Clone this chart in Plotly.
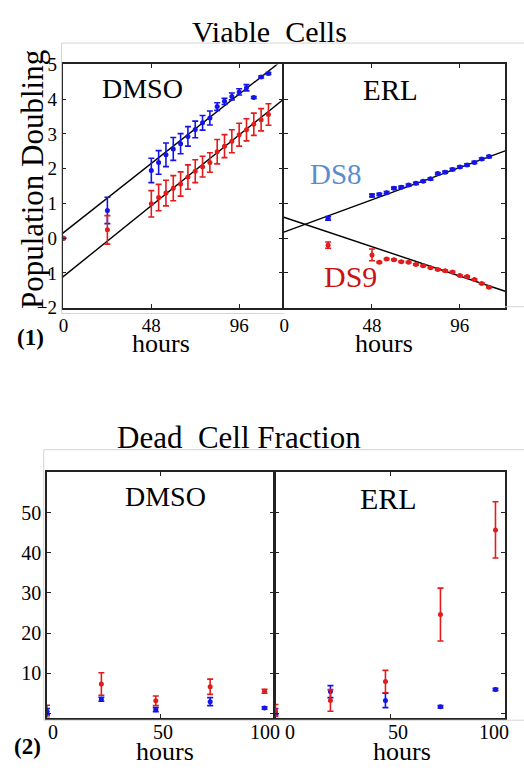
import numpy as np
import plotly.graph_objects as go

W, H = 524, 774

# ---------------- data ----------------
# (1) Viable cells: population doubling vs hours
hours_viable = [0, 24, 48, 52, 56, 60, 64, 68, 72, 76, 80, 84, 88, 92, 96, 100, 104, 108, 112]
dmso_ds8_pd = [0.00, 0.80, 1.95, 2.18, 2.40, 2.57, 2.72, 2.93, 3.13, 3.32, 3.46, 3.79, 3.94, 4.08, 4.21, 4.33, 4.05, 4.64, 4.74]
dmso_ds8_err = [0.00, 0.38, 0.35, 0.34, 0.34, 0.33, 0.29, 0.28, 0.24, 0.21, 0.20, 0.11, 0.09, 0.10, 0.09, 0.09, 0.03, 0.03, 0.03]
dmso_ds9_pd = [0.00, 0.24, 0.99, 1.17, 1.30, 1.44, 1.56, 1.76, 1.93, 2.06, 2.18, 2.49, 2.65, 2.79, 2.98, 3.12, 3.28, 3.41, 3.56]
dmso_ds9_err = [0.00, 0.41, 0.38, 0.38, 0.37, 0.36, 0.35, 0.35, 0.33, 0.30, 0.28, 0.35, 0.33, 0.33, 0.33, 0.32, 0.32, 0.32, 0.31]

hours_erl = [24, 48, 52, 56, 60, 64, 68, 72, 76, 80, 84, 88, 92, 96, 100, 104, 108, 112]
erl_ds8_pd = [0.57, 1.23, 1.26, 1.31, 1.44, 1.47, 1.53, 1.58, 1.64, 1.71, 1.86, 1.90, 1.98, 2.05, 2.11, 2.18, 2.28, 2.35]
erl_ds8_err = [0.05, 0.04, 0.03, 0.03, 0.03, 0.03, 0.03, 0.03, 0.03, 0.03, 0.03, 0.03, 0.03, 0.03, 0.03, 0.03, 0.03, 0.03]
erl_ds9_pd = [-0.20, -0.48, -0.69, -0.60, -0.62, -0.68, -0.69, -0.76, -0.79, -0.85, -0.90, -0.94, -0.97, -1.07, -1.10, -1.19, -1.30, -1.41]
erl_ds9_err = [0.09, 0.17, 0.02, 0.02, 0.02, 0.02, 0.02, 0.02, 0.02, 0.02, 0.02, 0.02, 0.02, 0.02, 0.02, 0.02, 0.02, 0.02]

# fitted lines: (intercept, slope)
fit_dmso_ds8 = (0.16, 0.0415)
fit_dmso_ds9 = (-1.10, 0.0424)
fit_erl_ds8 = (0.18, 0.0193)
fit_erl_ds9 = (0.60, -0.0176)

# (2) Dead cell fraction vs hours
hours_dead = [0, 24, 48, 72, 96]
dmso_dead_ds9 = [0.5, 7.3, 3.1, 6.6, 5.5]
dmso_dead_ds9_err = [1.5, 2.8, 1.2, 1.9, 0.5]
dmso_dead_ds8 = [0.4, 3.5, 0.9, 2.9, 1.3]
dmso_dead_ds8_err = [0.8, 0.5, 0.5, 1.0, 0.3]
erl_dead_ds9 = [0.7, 3.2, 7.9, 24.6, 45.7]
erl_dead_ds9_err = [1.5, 2.7, 2.8, 6.6, 7.0]
erl_dead_ds8 = [0.4, 5.4, 3.2, 1.6, 5.9]
erl_dead_ds8_err = [0.8, 1.5, 1.8, 0.3, 0.3]

viable_xticks = [0, 48, 96]
viable_yticks = [-2, -1, 0, 1, 2, 3, 4, 5]
dead_xticks = [0, 50, 100]
dead_yticks = [0, 10, 20, 30, 40, 50]
dead_yticktext = ["", "10", "20", "30", "40", "50"]

BLUE = "#1414e6"
RED = "#e21b1b"
SERIF = "Liberation Serif"


def px(x):
    return x / W


def py(y):
    return 1 - y / H


fig = go.Figure()


def add_series(xs, ys, errs, color, xa, ya):
    fig.add_trace(go.Scatter(
        x=xs, y=ys, mode="markers", xaxis=xa, yaxis=ya,
        marker=dict(color=color, size=5),
        error_y=dict(type="data", array=errs, color=color, thickness=1.6, width=3),
        showlegend=False, hoverinfo="skip"))


def add_fit(fit, xr, xa, ya):
    xs = np.array(xr)
    fig.add_trace(go.Scatter(
        x=xs, y=fit[0] + fit[1] * xs, mode="lines", xaxis=xa, yaxis=ya,
        line=dict(color="black", width=1.4), showlegend=False, hoverinfo="skip"))


# axis ranges
xr_v1 = [-0.5, 119.6]
xr_v2 = [-0.2, 120.8]
xr_d = [0, 100]
yr_v = [-2, 5]
yr_d = [-1.07, 60.1]

# top DMSO
add_fit(fit_dmso_ds8, xr_v1, "x", "y")
add_fit(fit_dmso_ds9, xr_v1, "x", "y")
add_series(hours_viable, dmso_ds8_pd, dmso_ds8_err, BLUE, "x", "y")
add_series(hours_viable, dmso_ds9_pd, dmso_ds9_err, RED, "x", "y")
# top ERL
add_fit(fit_erl_ds8, xr_v2, "x2", "y2")
add_fit(fit_erl_ds9, xr_v2, "x2", "y2")
add_series(hours_erl, erl_ds8_pd, erl_ds8_err, BLUE, "x2", "y2")
add_series(hours_erl, erl_ds9_pd, erl_ds9_err, RED, "x2", "y2")
# bottom DMSO
add_series(hours_dead, dmso_dead_ds9, dmso_dead_ds9_err, RED, "x3", "y3")
add_series(hours_dead, dmso_dead_ds8, dmso_dead_ds8_err, BLUE, "x3", "y3")
# bottom ERL
add_series(hours_dead, erl_dead_ds8, erl_dead_ds8_err, BLUE, "x4", "y4")
add_series(hours_dead, erl_dead_ds9, erl_dead_ds9_err, RED, "x4", "y4")

axis_common = dict(showgrid=False, zeroline=False, showline=True, linecolor="#222222",
                   linewidth=1.6, mirror="ticks", ticks="inside", ticklen=4,
                   tickcolor="#222222", tickwidth=1.2)

fig.update_layout(
    width=W, height=H, autosize=False,
    margin=dict(l=0, r=0, t=0, b=0),
    paper_bgcolor="white", plot_bgcolor="white",
    font=dict(family=SERIF, color="black"),
    xaxis=dict(domain=[px(59), px(280.5)], range=xr_v1, tickvals=viable_xticks,
               tickfont=dict(size=19, family=SERIF), anchor="y", ticklabelstandoff=0,
               **axis_common),
    yaxis=dict(domain=[py(306), py(56)], range=yr_v, tickvals=viable_yticks,
               tickfont=dict(size=19, family=SERIF), anchor="x", ticklabelstandoff=0,
               **axis_common),
    xaxis2=dict(domain=[px(282), px(505)], range=xr_v2, tickvals=viable_xticks,
                tickfont=dict(size=19, family=SERIF), anchor="y2", ticklabelstandoff=0,
                **axis_common),
    yaxis2=dict(domain=[py(306), py(56)], range=yr_v, tickvals=viable_yticks,
                showticklabels=False, anchor="x2", **axis_common),
    xaxis3=dict(domain=[px(43.3), px(271.7)], range=xr_d, tickvals=dead_xticks,
                showticklabels=False, anchor="y3", **axis_common),
    yaxis3=dict(domain=[py(727.3), py(475)], range=yr_d, tickvals=dead_yticks,
                ticktext=dead_yticktext, tickfont=dict(size=20, family=SERIF),
                anchor="x3", ticklabelstandoff=0, **axis_common),
    xaxis4=dict(domain=[px(273.5), px(504.5)], range=xr_d, tickvals=dead_xticks,
                showticklabels=False, anchor="y4", **axis_common),
    yaxis4=dict(domain=[py(727.3), py(475)], range=yr_d, tickvals=dead_yticks,
                showticklabels=False, anchor="x4", **axis_common),
)

# faint outer frames
frame = dict(type="line", xref="paper", yref="paper", line=dict(color="#d4d4d4", width=1))
for (x0, y0, x1, y1) in [(58, 34, 524, 34), (58, 34, 58, 312), (58, 312, 282, 312),
                         (505, 305, 524, 305),
                         (40, 452, 524, 452), (40, 452, 40, 730), (40, 730, 524, 730)]:
    fig.add_shape(**frame, x0=px(x0), y0=py(y0), x1=px(x1), y1=py(y1))


def ann(text, x, y, size, color="black", bold=False, angle=0):
    fig.add_annotation(text=f"<b>{text}</b>" if bold else text, x=px(x), y=py(y),
                       xref="paper", yref="paper", showarrow=False,
                       xanchor="center", yanchor="middle", textangle=angle,
                       borderpad=0,
                       font=dict(family=SERIF, size=size, color=color))


ann("Viable  Cells", 268, 22, 30)
ann("Population Doubling", 29, 174, 31, angle=-90)
ann("DMSO", 140, 81, 28)
ann("ERL", 389, 82, 29)
ann("DS8", 335, 169, 29, color="#5b8ccc")
ann("DS9", 349, 274, 30, color="#cc1111")
ann("hours", 158, 343, 26)
ann("hours", 383, 343, 26)
ann("(1)", 27, 337, 23, bold=True)

ann("Dead  Cell Fraction", 237, 439, 31)
ann("DMSO", 163, 500, 28)
ann("ERL", 387, 502, 30)
ann("hours", 162, 762, 26)
ann("hours", 401, 762, 26)
ann("(2)", 24, 757, 23, bold=True)

# bottom x tick labels (as placed in the original)
for lbl, x in zip(["0", "50", "100"], [49, 160.7, 263.3]):
    ann(lbl, x, 742, 20)
for lbl, x in zip(["0", "50", "100"], [288.3, 396.7, 493.3]):
    ann(lbl, x, 742, 20)

fig.write_html("out.html")
